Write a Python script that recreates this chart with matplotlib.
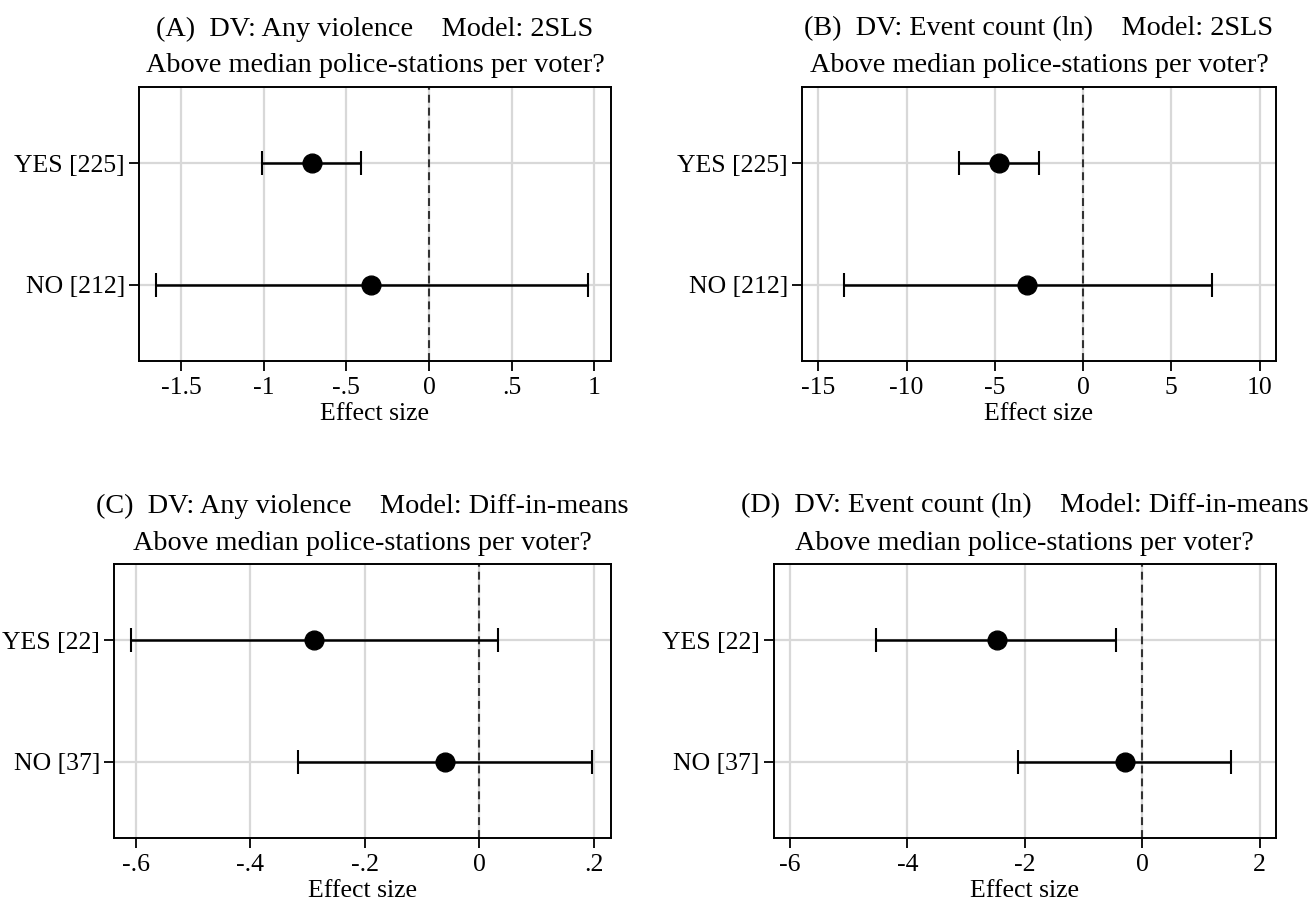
import matplotlib
matplotlib.use("Agg")
import matplotlib.pyplot as plt

plt.rcParams['font.family'] = ['Liberation Serif', 'DejaVu Serif']

W, H = 1316, 907

# y rows: NO at 1, YES at 2
rows = [1, 2]
labels_top = ["NO [212]", "YES [225]"]
labels_bottom = ["NO [37]", "YES [22]"]

# panel A: any violence, 2SLS
est_a = [-0.35, -0.71]
lo_a = [-1.65, -1.01]
hi_a = [0.96, -0.41]
ticks_a = [-1.5, -1, -0.5, 0, 0.5, 1]
ticklab_a = ["-1.5", "-1", "-.5", "0", ".5", "1"]

# panel B: event count (ln), 2SLS
est_b = [-3.17, -4.79]
lo_b = [-13.55, -7.05]
hi_b = [7.29, -2.50]
ticks_b = [-15, -10, -5, 0, 5, 10]
ticklab_b = ["-15", "-10", "-5", "0", "5", "10"]

# panel C: any violence, diff-in-means
est_c = [-0.06, -0.288]
lo_c = [-0.316, -0.609]
hi_c = [0.196, 0.033]
ticks_c = [-0.6, -0.4, -0.2, 0, 0.2]
ticklab_c = ["-.6", "-.4", "-.2", "0", ".2"]

# panel D: event count (ln), diff-in-means
est_d = [-0.30, -2.48]
lo_d = [-2.12, -4.53]
hi_d = [1.52, -0.44]
ticks_d = [-6, -4, -2, 0, 2]
ticklab_d = ["-6", "-4", "-2", "0", "2"]

titles = ["(A)  DV: Any violence    Model: 2SLS",
          "(B)  DV: Event count (ln)    Model: 2SLS",
          "(C)  DV: Any violence    Model: Diff-in-means",
          "(D)  DV: Event count (ln)    Model: Diff-in-means"]
subtitle = "Above median police-stations per voter?"

FS = 18.5
TFS = 20.3
grid_col = "#d8d8d8"


def coefplot(fig, box, est, lo, hi, ticks, ticklab, xlim, ylabels, title):
    l, r, t, b = box
    ax = fig.add_axes([l / W, 1 - b / H, (r - l) / W, (b - t) / H])
    err = [[e - a for e, a in zip(est, lo)], [c - e for e, c in zip(est, hi)]]
    for x in ticks:
        ax.axvline(x, color=grid_col, lw=1.6, zorder=0)
    for y in rows:
        ax.axhline(y, color=grid_col, lw=1.6, zorder=0)
    ax.axvline(0, color="#333333", lw=1.5, ls=(0, (3.8, 2.4)), zorder=1)
    ax.errorbar(est, rows, xerr=err, fmt="o", color="black", ms=13.5,
                elinewidth=1.8, capsize=8.5, capthick=1.5, zorder=3)
    ax.set_xlim(xlim)
    ax.set_ylim(0.369, 2.631)
    ax.set_xticks(ticks)
    ax.set_xticklabels(ticklab, fontsize=FS)
    ax.set_yticks(rows)
    ax.set_yticklabels(ylabels, fontsize=FS)
    ax.tick_params(axis="x", length=7.5, width=1.3, pad=4)
    ax.tick_params(axis="y", length=7, width=1.3, pad=3)
    for s in ax.spines.values():
        s.set_linewidth(1.4)
    ax.set_xlabel("Effect size", fontsize=FS, labelpad=3)
    cx = (l + r) / 2 / W
    fig.text(cx, 1 - (t - 58) / H, title, fontsize=TFS, ha="center", va="center")
    fig.text(cx, 1 - (t - 21) / H, subtitle, fontsize=TFS, ha="center", va="center")
    return ax


fig = plt.figure(figsize=(W / 100, H / 100), dpi=100)

coefplot(fig, (139, 611, 87, 361), est_a, lo_a, hi_a, ticks_a, ticklab_a,
         (-1.754, 1.101), labels_top, titles[0])
coefplot(fig, (802, 1276, 87, 361), est_b, lo_b, hi_b, ticks_b, ticklab_b,
         (-15.93, 10.93), labels_top, titles[1])
coefplot(fig, (114, 611, 564, 838), est_c, lo_c, hi_c, ticks_c, ticklab_c,
         (-0.638, 0.230), labels_bottom, titles[2])
coefplot(fig, (773.5, 1276, 564, 838), est_d, lo_d, hi_d, ticks_d, ticklab_d,
         (-6.28, 2.28), labels_bottom, titles[3])

fig.savefig("out.png", dpi=100)
